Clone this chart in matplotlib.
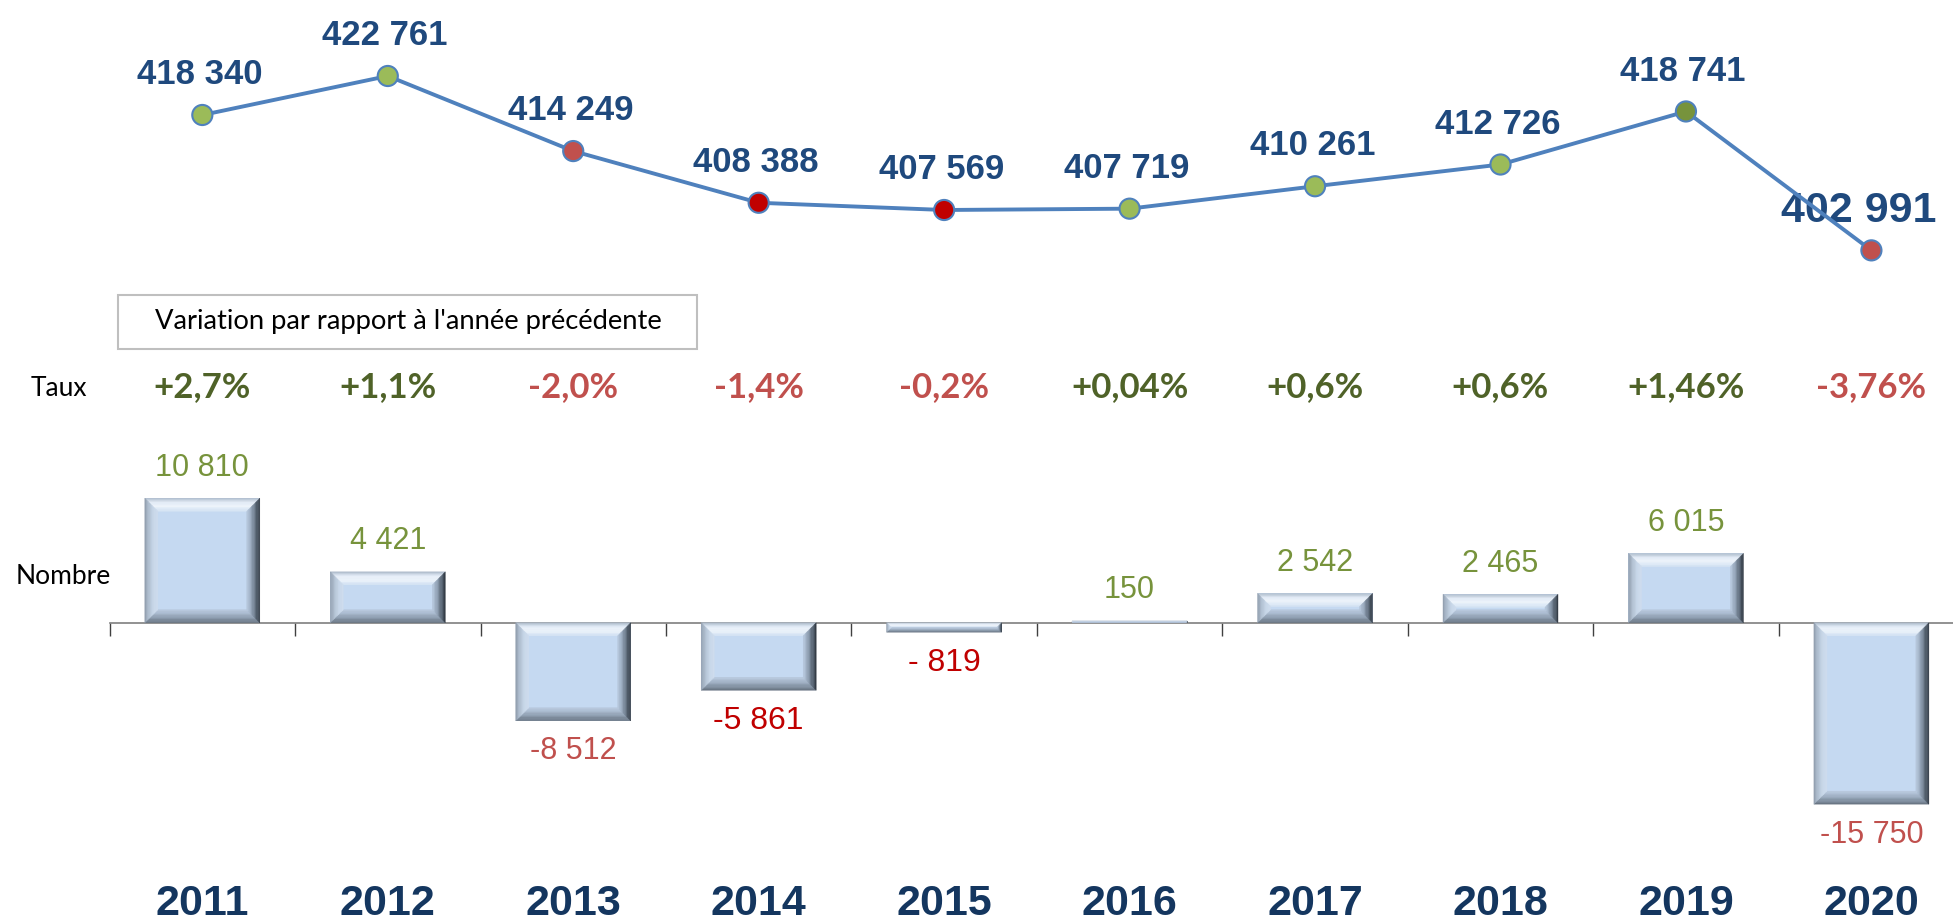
import matplotlib
matplotlib.use('Agg')
import matplotlib.pyplot as plt
import matplotlib.transforms as mtransforms
from matplotlib.patches import Polygon, Rectangle
from matplotlib.colors import to_rgb
import numpy as np

# Données
years = ['2011', '2012', '2013', '2014', '2015', '2016', '2017', '2018', '2019', '2020']
effectif = [418340, 422761, 414249, 408388, 407569, 407719, 410261, 412726, 418741, 402991]
variation = [10810, 4421, -8512, -5861, -819, 150, 2542, 2465, 6015, -15750]
variation_labels = ['10 810', '4 421', '-8 512', '-5 861', '- 819', '150', '2 542', '2 465', '6 015', '-15 750']
taux = ['+2,7%', '+1,1%', '-2,0%', '-1,4%', '-0,2%', '+0,04%', '+0,6%', '+0,6%', '+1,46%', '-3,76%']

# Couleurs
marker_colors = ['#9BBB59', '#9BBB59', '#C0504D', '#C00000', '#C00000',
                 '#9BBB59', '#9BBB59', '#9BBB59', '#77933C', '#C0504D']
taux_colors = ['#4F6228', '#4F6228', '#C0504D', '#C0504D', '#C0504D',
               '#4F6228', '#4F6228', '#4F6228', '#4F6228', '#C0504D']
nb_colors = ['#77933C', '#77933C', '#C0504D', '#C00000', '#C00000',
             '#77933C', '#77933C', '#77933C', '#77933C', '#C0504D']

ARIAL = 'Liberation Sans'
CAL = 'Lato'

W, H = 1953, 924
fig = plt.figure(figsize=(W / 100, H / 100), dpi=100)

left = 109.6 / W
width = 1 - left
x = np.arange(len(years))
xlim = (-0.5, 9.44)

# Courbe du haut
ax_top = fig.add_axes([left, 1 - 274 / H, width, (274 - 49.8) / H])
ax_top.plot(x, effectif, color='#4F81BD', lw=2.8, zorder=2)
ax_top.scatter(x, effectif, s=14.5 ** 2, c=marker_colors, edgecolors='#4F81BD',
               linewidths=1.5, zorder=3)
for i, v in enumerate(effectif):
    lab = f"{v:,}".replace(',', ' ')
    if i == len(effectif) - 1:
        # dernier label plus gros, collé au bord droit
        ax_top.annotate(lab, (i, v), xytext=(-9, 28), textcoords='offset points',
                        ha='center', va='center', fontsize=31, fontweight='bold',
                        family=ARIAL, color='#1F497D', zorder=1)
    else:
        ax_top.annotate(lab, (i, v), xytext=(-2, 29), textcoords='offset points',
                        ha='center', va='center', fontsize=25, fontweight='bold',
                        family=ARIAL, color='#1F497D', zorder=4)
ax_top.set_xlim(*xlim)
ax_top.set_ylim(400312, 425731)
ax_top.axis('off')

# Barres du bas
ax = fig.add_axes([left, 1 - 822 / H, width, (822 - 473) / H])
bars = ax.bar(x, variation, width=0.62, color='#C5D9F1', edgecolor='none', zorder=2)
ax.set_xlim(*xlim)
ax.set_ylim(-17300, 13000)
for s in ['top', 'right', 'left']:
    ax.spines[s].set_visible(False)
ax.spines['bottom'].set_position(('data', 0))
ax.spines['bottom'].set_color('#7F7F7F')
ax.spines['bottom'].set_linewidth(1.2)
ax.set_xticks(np.arange(-0.5, 9.0, 1.0))
ax.set_xticklabels([])
ax.tick_params(axis='x', direction='out', length=9, color='#404040', width=1)
ax.set_yticks([])

# effet biseau (dégradé par bandes, du bord vers l'intérieur)
GRAD = {
    'top': ['#A9B7C6', '#E6EEF8', '#EEF4FB', '#D3E2F3'],
    'bottom': ['#66717E', '#8392A3', '#A3B3C6', '#BACBE0'],
    'left': ['#8F9CAB', '#B1C0D1', '#C8D7E8', '#CFDDEE'],
    'right': ['#2C333C', '#5B6877', '#93A3B6', '#BACBE0'],
}

def interp(cols, t):
    pos = t * (len(cols) - 1)
    k = min(int(pos), len(cols) - 2)
    f = pos - k
    c0, c1 = np.array(to_rgb(cols[k])), np.array(to_rgb(cols[k + 1]))
    return tuple(c0 + (c1 - c0) * f)

def bevel(ax, rect, b=13, n=10):
    x0, y0 = rect.get_x(), rect.get_y()
    w, h = rect.get_width(), rect.get_height()
    a0, c0 = ax.transData.transform((x0, min(y0, y0 + h)))
    a1, c1 = ax.transData.transform((x0 + w, max(y0, y0 + h)))
    bb = min(b, (a1 - a0) / 2, (c1 - c0) / 2)
    inv = ax.transData.inverted()
    for k in range(n):
        t0, t1 = bb * k / n, bb * (k + 1) / n
        sides = {
            'top': [(a0 + t0, c1 - t0), (a1 - t0, c1 - t0), (a1 - t1, c1 - t1), (a0 + t1, c1 - t1)],
            'bottom': [(a0 + t0, c0 + t0), (a1 - t0, c0 + t0), (a1 - t1, c0 + t1), (a0 + t1, c0 + t1)],
            'left': [(a0 + t0, c0 + t0), (a0 + t0, c1 - t0), (a0 + t1, c1 - t1), (a0 + t1, c0 + t1)],
            'right': [(a1 - t0, c0 + t0), (a1 - t0, c1 - t0), (a1 - t1, c1 - t1), (a1 - t1, c0 + t1)],
        }
        for side, pts in sides.items():
            col = interp(GRAD[side], (k + 0.5) / n)
            ax.add_patch(Polygon(inv.transform(pts), closed=True, facecolor=col,
                                 edgecolor=col, lw=0.3, zorder=3))

for r in bars:
    bevel(ax, r)

for i, (v, lab) in enumerate(zip(variation, variation_labels)):
    dark = nb_colors[i] == '#C00000'
    ax.annotate(lab, (i, v), xytext=(0, 22 if v > 0 else -22), textcoords='offset points',
                ha='center', va='center', fontsize=23 if dark else 22,
                family=ARIAL, color=nb_colors[i], zorder=4)

# lignes de texte (taux, années)
tr = mtransforms.blended_transform_factory(ax.transData, fig.transFigure)
for i, t in enumerate(taux):
    ax.text(i, 1 - 387 / H, t, transform=tr, ha='center', va='center', fontsize=25,
            fontweight='bold', family=CAL, color=taux_colors[i])
for i, yv in enumerate(years):
    ax.text(i, 1 - 904 / H, yv, transform=tr, ha='center', va='center', fontsize=31,
            fontweight='bold', family=ARIAL, color='#14365F')

fig.text(59 / W, 1 - 389 / H, 'Taux', ha='center', va='center', fontsize=19, family=CAL, color='black')
fig.text(63 / W, 1 - 577 / H, 'Nombre', ha='center', va='center', fontsize=19, family=CAL, color='black')

# cadre
fig.add_artist(Rectangle((118 / W, 1 - 349 / H), (697 - 118) / W, (349 - 295) / H,
                         transform=fig.transFigure, facecolor='white', edgecolor='#BFBFBF', lw=1.5))
fig.text(408 / W, 1 - 322 / H, "Variation par rapport à l'année précédente", ha='center', va='center',
         fontsize=19.7, family=CAL, color='black')

fig.savefig('out.png', dpi=100)
